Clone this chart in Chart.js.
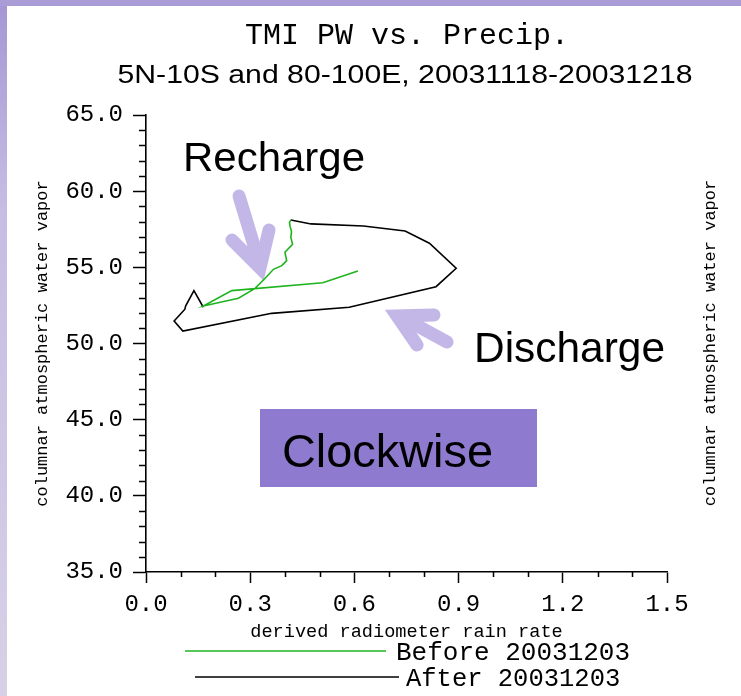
<!DOCTYPE html>
<html><head><meta charset="utf-8">
<script src="https://cdn.jsdelivr.net/npm/chart.js@4/dist/chart.umd.min.js"></script>
<style>html,body{margin:0;padding:0;background:#fff;overflow:hidden}canvas{display:block}</style>
</head><body>
<canvas id="c" width="741" height="696"></canvas>
<script>
const titleText = 'TMI PW vs. Precip.';
const subtitleText = '5N-10S and 80-100E, 20031118-20031218';
const xAxisTitle = 'derived radiometer rain rate';
const yAxisTitle = 'columnar atmospheric water vapor';
const seriesNames = ['Before 20031203', 'After 20031203'];
const seriesColors = ['#1fb41f', '#000000'];
const xTickLabels = ['0.0', '0.3', '0.6', '0.9', '1.2', '1.5'];
const yTickLabels = ['35.0', '40.0', '45.0', '50.0', '55.0', '60.0', '65.0'];
const noteLabels = ['Recharge', 'Discharge', 'Clockwise'];

// Before 20031203 (green)
const beforeRain = [0.610, 0.509, 0.247, 0.165, 0.266, 0.314, 0.343, 0.367, 0.391, 0.405, 0.400, 0.422, 0.417, 0.419, 0.415, 0.413, 0.417];
const beforePW   = [54.76, 53.99, 53.47, 52.46, 52.97, 53.62, 54.28, 54.87, 55.11, 55.44, 55.99, 56.51, 56.97, 57.34, 57.67, 57.93, 58.11];
// After 20031203 (black)
const afterRain = [0.417, 0.475, 0.626, 0.746, 0.816, 0.893, 0.835, 0.585, 0.362, 0.106, 0.081, 0.112, 0.114, 0.138, 0.165];
const afterPW   = [58.11, 57.85, 57.71, 57.39, 56.58, 54.94, 53.73, 52.38, 51.98, 50.82, 51.48, 52.25, 52.46, 53.47, 52.38];

const toPts = (xs, ys) => xs.map((x, i) => ({x: x, y: ys[i]}));
const labelFor = (arr, v) => { const f = arr.find(s => Math.abs(Number(s) - v) < 1e-6); return f === undefined ? '' : f; };

const MONO = 'Liberation Mono';
const SANS = 'Liberation Sans';
const LAV = '#c3b7e7';

function fitText(ctx, text, x, y, font, targetW, align) {
  ctx.save();
  ctx.font = font;
  const w = ctx.measureText(text).width;
  ctx.translate(x, y);
  ctx.scale(targetW / w, 1);
  ctx.textAlign = align;
  ctx.textBaseline = 'alphabetic';
  ctx.fillText(text, 0, 0);
  ctx.restore();
}

const decor = {
  id: 'decor',
  beforeDraw(chart) {
    const ctx = chart.ctx;
    ctx.save();
    ctx.fillStyle = '#ffffff';
    ctx.fillRect(0, 0, chart.width, chart.height);
    const g = ctx.createLinearGradient(0, 0, 0, chart.height);
    g.addColorStop(0, '#a596d4');
    g.addColorStop(0.3, '#c6bde3');
    g.addColorStop(1, '#d6d1e6');
    ctx.fillStyle = g;
    ctx.fillRect(0, 0, 7, chart.height);
    ctx.fillStyle = '#a99cd7';
    ctx.fillRect(0, 0, chart.width, 6);
    ctx.restore();
  },
  beforeDatasetsDraw(chart) {
    const ctx = chart.ctx;
    ctx.save();
    ctx.strokeStyle = LAV;
    ctx.lineWidth = 13;
    ctx.lineCap = 'round';
    ctx.lineJoin = 'miter';
    // Recharge arrow
    ctx.beginPath(); ctx.moveTo(239, 196); ctx.lineTo(259, 262); ctx.stroke();
    ctx.beginPath(); ctx.moveTo(232, 240); ctx.lineTo(260, 268); ctx.lineTo(269, 230); ctx.stroke();
    // Discharge arrow
    ctx.beginPath(); ctx.moveTo(447, 342); ctx.lineTo(403, 318); ctx.stroke();
    ctx.beginPath(); ctx.moveTo(434, 315); ctx.lineTo(397, 316); ctx.lineTo(417, 345); ctx.stroke();
    ctx.restore();
  },
  afterDraw(chart) {
    const ctx = chart.ctx;
    const xs = chart.scales.x, ys = chart.scales.y;
    const ca = chart.chartArea;
    ctx.save();
    // minor ticks
    ctx.strokeStyle = '#000';
    ctx.lineWidth = 1.5;
    ctx.beginPath();
    for (let i = 0; i <= 15; i++) {
      if (i % 3 === 0) continue;
      const px = Math.round(xs.getPixelForValue(i / 10)) + 0.5;
      ctx.moveTo(px, ca.bottom); ctx.lineTo(px, ca.bottom + 5);
    }
    for (let v = 35; v <= 65; v++) {
      if (v % 5 === 0) continue;
      const py = Math.round(ys.getPixelForValue(v)) + 0.5;
      ctx.moveTo(ca.left - 7, py); ctx.lineTo(ca.left, py);
    }
    ctx.stroke();

    // titles
    ctx.fillStyle = '#000';
    ctx.font = '30px "' + MONO + '"';
    ctx.textAlign = 'center';
    ctx.textBaseline = 'alphabetic';
    ctx.fillText(titleText, 407, 44);
    fitText(ctx, subtitleText, 405, 83, '26.5px "' + SANS + '"', 575, 'center');

    // right-side y title
    ctx.save();
    ctx.translate(710, 343);
    ctx.rotate(-Math.PI / 2);
    ctx.font = '17px "' + MONO + '"';
    ctx.textAlign = 'center';
    ctx.textBaseline = 'middle';
    ctx.fillText(yAxisTitle, 0, 0);
    ctx.restore();

    // legend
    const ds = chart.data.datasets;
    const legendRows = [
      {x1: 185, x2: 386, y: 651, tx: 396, ty: 660, size: 26},
      {x1: 195, x2: 399, y: 677, tx: 406, ty: 686, size: 25.5}
    ];
    legendRows.forEach((r, i) => {
      ctx.strokeStyle = ds[i].borderColor;
      ctx.lineWidth = 1.6;
      ctx.beginPath(); ctx.moveTo(r.x1, r.y); ctx.lineTo(r.x2, r.y); ctx.stroke();
      ctx.fillStyle = '#000';
      ctx.font = r.size + 'px "' + MONO + '"';
      ctx.textAlign = 'left';
      ctx.textBaseline = 'alphabetic';
      ctx.fillText(ds[i].label, r.tx, r.ty);
    });

    // annotations
    ctx.fillStyle = '#8e7bd0';
    ctx.fillRect(260, 409, 277, 78);
    ctx.fillStyle = '#000';
    fitText(ctx, noteLabels[0], 183, 171, '40px "' + SANS + '"', 182, 'left');
    fitText(ctx, noteLabels[1], 474, 362, '43px "' + SANS + '"', 191, 'left');
    fitText(ctx, noteLabels[2], 282, 467, '46px "' + SANS + '"', 211, 'left');
    ctx.restore();
  }
};

new Chart(document.getElementById('c'), {
  type: 'scatter',
  data: {
    datasets: [
      {label: seriesNames[0], data: toPts(beforeRain, beforePW), showLine: true, borderColor: seriesColors[0], backgroundColor: seriesColors[0], borderWidth: 1.6, pointRadius: 0, tension: 0},
      {label: seriesNames[1], data: toPts(afterRain, afterPW), showLine: true, borderColor: seriesColors[1], backgroundColor: seriesColors[1], borderWidth: 1.6, pointRadius: 0, tension: 0}
    ]
  },
  options: {
    responsive: false,
    animation: false,
    devicePixelRatio: 1,
    layout: {padding: {top: 115, right: 74, left: 0, bottom: 0}},
    plugins: {legend: {display: false}, tooltip: {enabled: false}, title: {display: false}},
    scales: {
      x: {
        type: 'linear', position: 'bottom', min: 0, max: 1.5,
        ticks: {stepSize: 0.3, autoSkip: false, maxRotation: 0, color: '#000', padding: 7,
          font: {family: MONO, size: 24}, callback: v => labelFor(xTickLabels, v)},
        grid: {display: true, drawOnChartArea: false, drawTicks: true, tickLength: 11, tickColor: '#000', tickWidth: 1.5},
        border: {display: true, color: '#000', width: 1.6},
        title: {display: true, text: xAxisTitle, color: '#000', font: {family: MONO, size: 18.6}, padding: {top: 0, bottom: 53}},
        afterFit(s) { s.height = 124; }
      },
      y: {
        type: 'linear', position: 'left', min: 35, max: 65,
        ticks: {stepSize: 5, color: '#000', padding: 10,
          font: {family: MONO, size: 24}, callback: v => labelFor(yTickLabels, v)},
        grid: {display: true, drawOnChartArea: false, drawTicks: true, tickLength: 13, tickColor: '#000', tickWidth: 1.5},
        border: {display: true, color: '#000', width: 1.6},
        title: {display: true, text: yAxisTitle, color: '#000', font: {family: MONO, size: 17}, padding: {top: 32, bottom: 0}},
        afterFit(s) { s.width = 146; }
      }
    }
  },
  plugins: [decor]
});
</script>
</body></html>
